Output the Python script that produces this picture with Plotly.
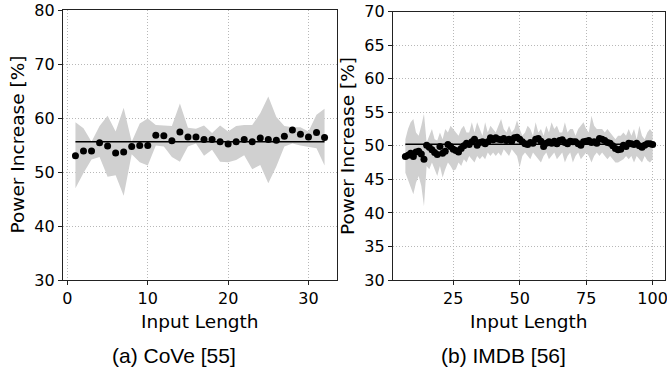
import plotly.graph_objects as go

# ---------------- Data ----------------
# (a) CoVe
cove_x = list(range(1, 33))
cove_mean = [53.0, 53.9, 53.9, 55.4, 54.8, 53.5, 53.7, 54.7, 54.9, 54.9,
             56.8, 56.7, 55.8, 57.4, 56.5, 56.5, 56.0, 56.0, 55.6, 55.2,
             55.6, 56.0, 55.6, 56.3, 56.0, 55.9, 56.6, 57.8, 57.0, 56.5,
             57.3, 56.4]
cove_upper = [59.2, 58.1, 55.6, 58.5, 60.4, 57.5, 61.9, 55.6, 59.0, 59.9,
              58.7, 58.6, 58.5, 62.7, 58.2, 58.0, 58.6, 57.2, 58.6, 57.5,
              58.5, 58.7, 58.7, 60.9, 64.0, 60.2, 58.5, 58.3, 58.3, 57.5,
              60.6, 61.7]
cove_lower = [47.0, 49.8, 52.3, 52.8, 49.1, 49.4, 45.6, 53.3, 51.8, 51.2,
              54.9, 54.7, 52.8, 51.9, 54.7, 55.3, 53.0, 54.1, 51.9, 51.8,
              52.2, 53.1, 50.5, 51.3, 47.9, 51.0, 54.7, 55.3, 54.9, 54.7,
              54.4, 51.2]
cove_overall = 55.6

# (b) IMDB
imdb_x = list(range(7, 101))
imdb_mean = [48.4, 48.6, 48.9, 48.4, 49.1, 49.2, 48.8, 48.0, 50.1, 49.8,
             49.4, 49.0, 48.7, 49.9, 48.9, 49.2, 50.2, 49.9, 49.5, 49.3,
             49.1, 49.6, 50.0, 50.4, 50.2, 50.6, 51.0, 50.1, 50.5, 50.6,
             50.3, 50.6, 51.2, 50.9, 51.2, 51.0, 50.9, 51.1, 50.8, 51.0,
             50.7, 51.2, 51.3, 51.0, 50.6, 50.3, 50.2, 50.5, 50.4, 51.0,
             51.1, 50.7, 49.9, 50.4, 50.6, 50.4, 50.7, 50.3, 50.8, 50.9,
             50.5, 50.3, 50.7, 50.6, 50.6, 50.3, 50.1, 50.6, 50.7, 50.8,
             50.5, 50.6, 50.4, 51.1, 51.0, 50.8, 50.5, 50.4, 50.0, 49.6,
             49.4, 49.5, 50.1, 49.9, 50.4, 50.3, 50.2, 50.4, 50.0, 49.8,
             50.1, 50.3, 50.3, 50.2]
imdb_upper = [51.0, 52.5, 53.5, 54.0, 52.0, 51.5, 53.0, 54.8, 50.5, 51.5,
              52.5, 51.0, 50.8, 52.0, 51.0, 52.5, 52.0, 53.0, 52.5, 52.0,
              51.5, 52.5, 53.0, 52.0, 52.0, 53.5, 52.0, 53.5, 52.5, 51.5,
              53.5, 52.0, 53.0, 52.5, 52.0, 53.0, 54.0, 52.5, 52.0, 53.0,
              52.0, 52.5, 53.8, 52.5, 51.5, 52.0, 53.0, 52.5, 51.5, 53.5,
              52.0, 52.5, 51.5, 53.0, 52.0, 53.5, 52.5, 53.0, 52.0, 52.0,
              53.5, 52.0, 52.5, 52.5, 51.5, 52.5, 53.0, 53.5, 52.5, 52.0,
              54.5, 53.0, 52.5, 52.5, 52.5, 52.0, 52.5, 52.0, 51.5, 51.0,
              51.5, 51.5, 52.0, 51.5, 52.5, 51.5, 52.5, 51.0, 53.0, 51.5,
              51.0, 52.0, 52.5, 52.0]
imdb_lower = [46.0, 45.0, 44.0, 42.8, 44.5, 45.5, 44.0, 41.0, 47.0, 46.5,
              47.5, 46.5, 45.5, 47.0, 45.3, 46.5, 47.5, 47.0, 46.3, 46.5,
              47.5, 47.0, 48.0, 47.5, 48.5, 48.0, 47.5, 48.5, 48.0, 48.5,
              48.0, 49.0, 48.5, 49.0, 48.5, 49.0, 48.5, 49.5, 49.0, 48.5,
              49.5, 49.0, 48.5, 46.8, 48.5, 49.0, 48.5, 48.0, 49.0, 48.5,
              48.0, 47.5, 48.5, 49.0, 48.0, 48.5, 49.0, 48.0, 48.5, 49.0,
              47.5, 48.5, 49.0, 47.5, 48.5, 49.0, 48.0, 48.5, 49.0, 48.5,
              47.5, 48.5, 49.0, 48.5, 49.0, 48.5, 48.0, 48.5, 48.0, 47.5,
              47.5, 47.8, 48.0, 48.5, 48.0, 48.5, 47.5, 48.5, 48.0, 47.5,
              48.5, 47.8, 47.5, 48.0]
imdb_overall = 50.25

x_title = "Input Length"
y_title = "Power Increase [%]"
captions = ["(a) CoVe [55]", "(b) IMDB [56]"]

left_yticks = [30, 40, 50, 60, 70, 80]
left_xticks = [0, 10, 20, 30]
right_yticks = [30, 35, 40, 45, 50, 55, 60, 65, 70]
right_xticks = [25, 50, 75, 100]

# ---------------- Figure ----------------
W, H = 667, 373
BAND = "#d0d0d0"
fig = go.Figure()


def add_panel(xs, mean, up, lo, overall, xa, ya):
    fig.add_trace(go.Scatter(x=xs, y=lo, mode="lines", line=dict(width=0, color=BAND),
                             showlegend=False, hoverinfo="skip", xaxis=xa, yaxis=ya))
    fig.add_trace(go.Scatter(x=xs, y=up, mode="lines", line=dict(width=0, color=BAND),
                             fill="tonexty", fillcolor=BAND, showlegend=False,
                             hoverinfo="skip", xaxis=xa, yaxis=ya))
    fig.add_trace(go.Scatter(x=[xs[0], xs[-1]], y=[overall, overall], mode="lines",
                             line=dict(color="black", width=1.5), showlegend=False,
                             xaxis=xa, yaxis=ya))
    fig.add_trace(go.Scatter(x=xs, y=mean, mode="markers",
                             marker=dict(color="black", size=7), showlegend=False,
                             xaxis=xa, yaxis=ya))


add_panel(cove_x, cove_mean, cove_upper, cove_lower, cove_overall, "x", "y")
add_panel(imdb_x, imdb_mean, imdb_upper, imdb_lower, imdb_overall, "x2", "y2")

tickfont = dict(family="DejaVu Sans", size=16, color="black")
titlefont = dict(family="DejaVu Sans", size=18.5, color="black")
capfont = dict(family="Liberation Sans", size=21, color="black")

axis_common = dict(showline=True, linecolor="#222222", linewidth=1.2, mirror=True,
                   ticks="outside", ticklen=4, tickwidth=1.2, tickcolor="#222222",
                   showgrid=True, gridcolor="#b8b8b8", griddash="1px,2px", gridwidth=1,
                   zeroline=False, tickfont=tickfont, automargin=False,
                   ticklabeloverflow="allow")


def px(xp, yp):
    return xp / W, (H - yp) / H


def text_ann(text, xp, yp, font, angle=0):
    x, y = px(xp, yp)
    return dict(text=text, x=x, y=y, xref="paper", yref="paper", showarrow=False,
                font=font, textangle=angle, xanchor="center", yanchor="middle")


fig.update_layout(
    width=W, height=H,
    margin=dict(l=0, r=0, t=0, b=0),
    paper_bgcolor="white", plot_bgcolor="white",
    xaxis=dict(domain=[63 / W, 337 / W], range=[-0.55, 33.55], tickvals=left_xticks,
               anchor="y", **axis_common),
    yaxis=dict(domain=[93 / H, 363 / H], range=[30, 80], tickvals=left_yticks,
               anchor="x", **axis_common),
    xaxis2=dict(domain=[393 / W, 665 / W], range=[2.35, 104.65], tickvals=right_xticks,
                anchor="y2", **axis_common),
    yaxis2=dict(domain=[93 / H, 361.3 / H], range=[30, 70], tickvals=right_yticks,
                anchor="x2", **axis_common),
    annotations=[
        text_ann(x_title, 200, 321, titlefont),
        text_ann(x_title, 529, 321, titlefont),
        text_ann(y_title, 16.5, 145, titlefont, -90),
        text_ann(y_title, 347, 146, titlefont, -90),
        text_ann(captions[0], 174, 355, capfont),
        text_ann(captions[1], 503, 355, capfont),
    ],
)

fig.write_html(
    "out.html",
    config={"displayModeBar": False},
    post_script="document.body.style.margin='0px';document.body.style.overflow='hidden';",
)
